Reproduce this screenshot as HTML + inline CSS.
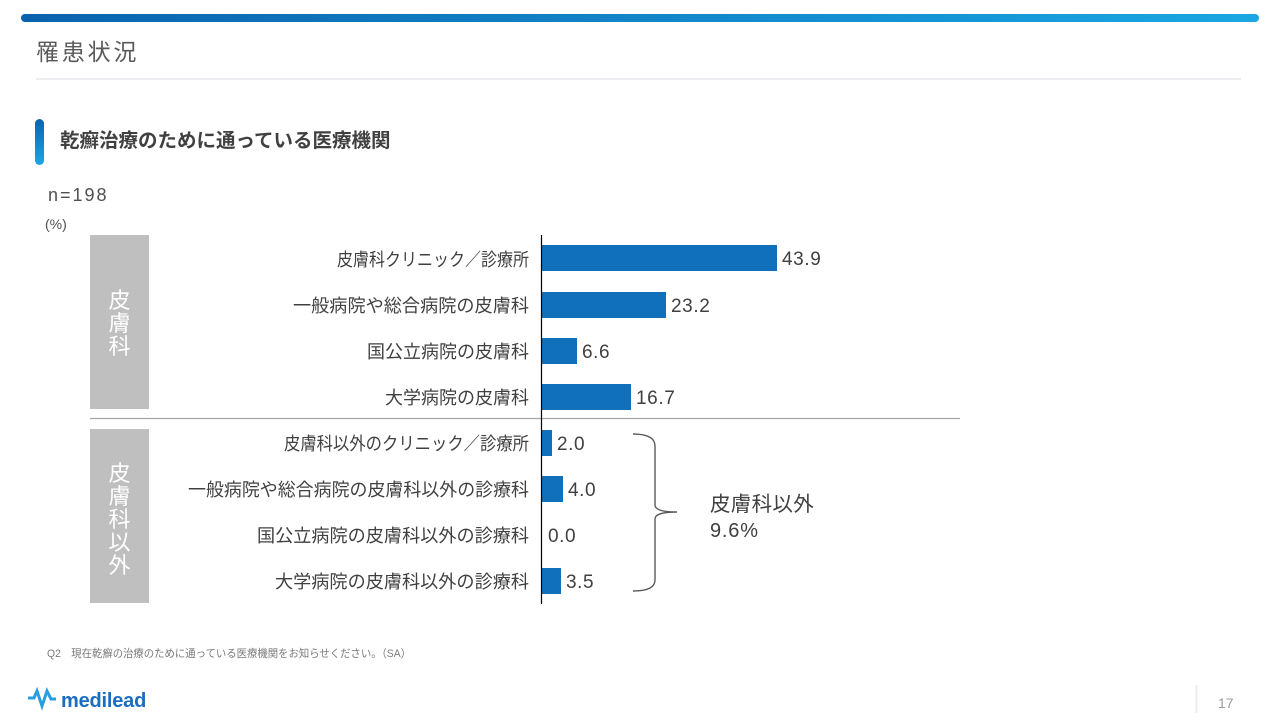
<!DOCTYPE html>
<html><head><meta charset="utf-8">
<style>
html,body{margin:0;padding:0;background:#fff;}
body{width:1280px;height:720px;position:relative;overflow:hidden;font-family:"Liberation Sans","Noto Sans CJK JP",sans-serif;}
.abs{position:absolute;}
</style></head>
<body>
<div class="abs" style="left:21px;top:14px;width:1238px;height:8px;border-radius:4px;background:linear-gradient(90deg,#0a62ae,#1aa7e3);"></div>
<div class="abs" style="left:36px;top:36px;font-size:23px;letter-spacing:2.8px;color:#5a5a5a;line-height:32px;">罹患状況</div>
<div class="abs" style="left:36px;top:78px;width:1205px;height:2px;background:#ececf1;"></div>
<div class="abs" style="left:35px;top:119px;width:9px;height:46px;border-radius:4.5px;background:linear-gradient(180deg,#0a63b0,#1ba5e4);"></div>
<div class="abs" style="left:60px;top:126px;font-size:19.5px;font-weight:bold;color:#404040;line-height:30px;white-space:nowrap;">乾癬治療のために通っている医療機関</div>
<div class="abs" style="left:48px;top:183px;font-size:18px;color:#505050;line-height:24px;letter-spacing:2px;">n=198</div>
<div class="abs" style="left:45px;top:214px;font-size:14px;color:#505050;line-height:20px;">(%)</div>

<svg class="abs" style="left:0;top:0" width="1280" height="720" viewBox="0 0 1280 720" font-family="Liberation Sans, Noto Sans CJK JP, sans-serif">
  <rect x="90" y="235" width="59" height="174" fill="#bfbfbf"/>
  <rect x="90" y="429" width="59" height="174" fill="#bfbfbf"/>
  <g fill="#ffffff" font-size="22" text-anchor="middle">
    <text x="119.5" y="308">皮</text>
    <text x="119.5" y="331">膚</text>
    <text x="119.5" y="354">科</text>
    <text x="119.5" y="481">皮</text>
    <text x="119.5" y="504">膚</text>
    <text x="119.5" y="527">科</text>
    <text x="119.5" y="550">以</text>
    <text x="119.5" y="573">外</text>
  </g>
  <line x1="90" y1="418.5" x2="960" y2="418.5" stroke="#a6a6a6" stroke-width="1.2"/>
  <g fill="#1070bc">
    <rect x="542" y="245" width="235" height="26"/>
    <rect x="542" y="292" width="124" height="26"/>
    <rect x="542" y="338" width="35" height="26"/>
    <rect x="542" y="384" width="89" height="26"/>
    <rect x="542" y="430" width="10" height="26"/>
    <rect x="542" y="476" width="21" height="26"/>
    <rect x="542" y="568" width="19" height="26"/>
  </g>
  <line x1="541.5" y1="235" x2="541.5" y2="604" stroke="#000" stroke-width="1.2"/>
  <g fill="#404040" font-size="18" text-anchor="end">
    <text x="529" y="266" textLength="192" lengthAdjust="spacingAndGlyphs">皮膚科クリニック／診療所</text>
    <text x="529" y="312" textLength="236" lengthAdjust="spacingAndGlyphs">一般病院や総合病院の皮膚科</text>
    <text x="529" y="358" textLength="162" lengthAdjust="spacingAndGlyphs">国公立病院の皮膚科</text>
    <text x="529" y="404" textLength="144" lengthAdjust="spacingAndGlyphs">大学病院の皮膚科</text>
    <text x="529" y="450" textLength="245" lengthAdjust="spacingAndGlyphs">皮膚科以外のクリニック／診療所</text>
    <text x="529" y="496" textLength="341" lengthAdjust="spacingAndGlyphs">一般病院や総合病院の皮膚科以外の診療科</text>
    <text x="529" y="542" textLength="272" lengthAdjust="spacingAndGlyphs">国公立病院の皮膚科以外の診療科</text>
    <text x="529" y="588" textLength="254" lengthAdjust="spacingAndGlyphs">大学病院の皮膚科以外の診療科</text>
  </g>
  <g fill="#404040" font-size="19" letter-spacing="0.6">
    <text x="782" y="265">43.9</text>
    <text x="671" y="312">23.2</text>
    <text x="582" y="358">6.6</text>
    <text x="636" y="404">16.7</text>
    <text x="557" y="450">2.0</text>
    <text x="568" y="496">4.0</text>
    <text x="548" y="542">0.0</text>
    <text x="566" y="588">3.5</text>
  </g>
  <path d="M633,434 Q655,434 655,446 L655,505 Q655,512 677,512 Q655,512 655,519 L655,580 Q655,591 633,591" fill="none" stroke="#595959" stroke-width="1.4"/>
  <text x="710" y="511" font-size="20.5" fill="#404040" letter-spacing="0.3">皮膚科以外</text>
  <text x="710" y="537" font-size="20" fill="#404040" letter-spacing="0.8">9.6%</text>

  <text x="47" y="657" font-size="11" fill="#7a7a7a" xml:space="preserve" textLength="364" lengthAdjust="spacingAndGlyphs">Q2　現在乾癬の治療のために通っている医療機関をお知らせください。（SA）</text>

  <polyline points="28,698 34,698 37,691 42,706 47,691 51,699 56,699" fill="none" stroke="#2a9de0" stroke-width="3" stroke-linejoin="miter"/>
  <text x="61" y="707" font-size="20" font-weight="bold" fill="#1a6dc0" letter-spacing="-0.2">medilead</text>

  <line x1="1196.5" y1="685" x2="1196.5" y2="713" stroke="#ececf1" stroke-width="2"/>
  <text x="1218" y="708" font-size="14" fill="#9a9a9a">17</text>
</svg>
</body></html>
